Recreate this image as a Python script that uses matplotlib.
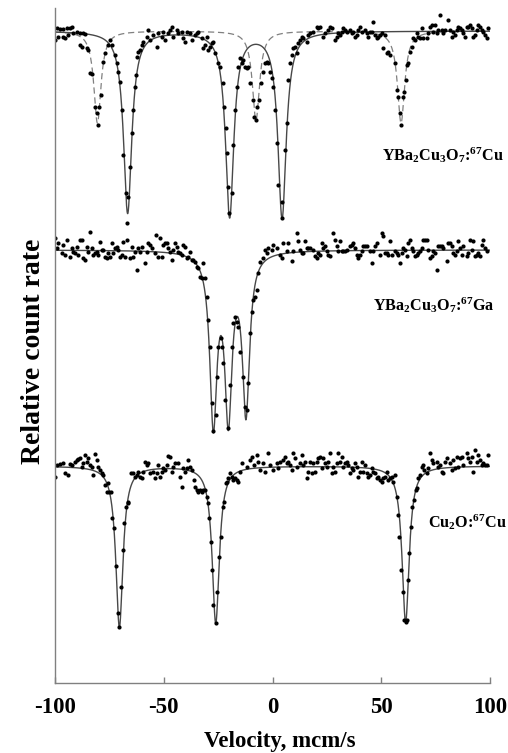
import numpy as np
import matplotlib
matplotlib.use("Agg")
import matplotlib.pyplot as plt

plt.rcParams['font.family'] = ['Liberation Serif', 'DejaVu Serif']
plt.rcParams['font.weight'] = 'bold'
plt.rcParams['mathtext.fontset'] = 'custom'
plt.rcParams['mathtext.rm'] = 'Liberation Serif:bold'
plt.rcParams['mathtext.it'] = 'Liberation Serif:bold'
plt.rcParams['mathtext.bf'] = 'Liberation Serif:bold'
plt.rcParams['axes.unicode_minus'] = False

# ---------------- data: velocity (mcm/s) and relative count rate (%) ----------------
ybco_cu_v = [-100.0, -99.1, -97.8, -96.4, -94.5, -93.1, -92.2, -98.6, -96.4, -95.4, -94.0, -91.7, -89.9, -88.5,
             -87.1, -86.2, -88.5, -87.6, -85.3, -84.8, -83.9, -83.1, -81.6, -80.8, -80.4, -79.6, -79.0, -77.8,
             -77.0, -75.6, -74.7, -73.8, -72.4, -71.6, -70.9, -70.1, -69.3, -68.6, -67.4, -66.3, -65.5, -64.7,
             -64.3, -63.2, -62.8, -62.2, -61.7, -60.9, -60.1, -59.4, -57.8, -57.1, -56.3, -54.8, -53.2, -52.5,
             -50.9, -50.2, -49.4, -47.9, -47.1, -46.3, -45.6, -44.0, -43.3, -41.8, -41.0, -40.2, -39.5, -37.9,
             -37.2, -35.6, -34.9, -34.1, -32.6, -31.8, -31.0, -30.3, -29.5, -28.7, -28.0, -27.2, -26.4, -24.9,
             -24.1, -22.9, -22.3, -21.5, -21.1, -20.3, -19.9, -18.8, -18.0, -17.2, -16.5, -15.7, -14.9, -14.2,
             -13.4, -12.6, -11.9, -11.1, -10.3, -9.1, -8.5, -7.6, -7.0, -6.1, -5.4, -4.2, -3.4, -2.7, -1.9, -1.1,
             -0.4, 0.4, 1.1, 1.9, 2.7, 4.2, 4.5, 5.7, 6.5, 7.3, 8.0, 8.8, 9.6, 10.3, 11.1, 11.9, 12.6, 13.4, 14.2,
             15.7, 16.5, 17.2, 18.8, 20.3, 21.1, 21.8, 23.4, 24.1, 25.7, 26.4, 27.2, 28.7, 29.5, 30.3, 31.0, 31.8,
             32.6, 33.3, 34.1, 35.6, 36.4, 37.2, 37.9, 38.7, 39.5, 40.2, 41.0, 42.5, 43.3, 44.0, 44.8, 45.6, 46.3,
             47.1, 47.9, 48.6, 49.4, 50.2, 50.9, 51.7, 52.5, 53.2, 54.0, 56.3, 57.1, 57.8, 58.6, 59.1, 60.1, 60.6,
             61.2, 61.7, 62.4, 63.2, 64.0, 64.7, 65.5, 66.3, 67.0, 67.8, 68.6, 69.3, 70.9, 71.6, 72.4, 73.2, 73.9,
             74.7, 75.5, 76.2, 77.0, 77.8, 78.5, 79.3, 80.8, 81.6, 82.4, 83.1, 83.9, 84.7, 85.4, 86.2, 87.0, 87.7,
             88.5, 89.3, 90.0, 90.8, 91.6, 92.3, 93.1, 93.9, 94.6, 95.4, 96.2, 96.9, 97.7, 98.5, 99.2]
ybco_cu_rate = [99.1, 100.3, 100.2, 100.2, 100.3, 100.3, 100.4, 99.4, 99.4, 99.3, 99.6, 99.8, 99.9, 99.8,
                99.8, 99.7, 98.6, 98.4, 98.3, 98.1, 95.8, 95.7, 92.4, 91.8, 90.6, 92.4, 93.6, 96.9,
                97.8, 98.6, 99.1, 98.6, 97.6, 96.8, 95.9, 94.9, 92.1, 87.6, 83.8, 83.4, 86.4, 89.8,
                92.1, 94.4, 95.6, 97.4, 97.9, 98.1, 98.6, 98.9, 99.4, 100.1, 99.1, 99.6, 98.4, 99.8,
                99.4, 99.9, 99.1, 99.8, 100.1, 100.4, 99.4, 100.1, 99.8, 99.9, 99.3, 98.9, 99.9, 99.8,
                99.1, 99.6, 99.8, 99.9, 99.3, 98.3, 98.6, 99.4, 98.1, 98.4, 98.8, 98.9, 97.8, 96.8,
                96.4, 94.8, 92.4, 90.3, 87.8, 84.4, 81.8, 83.8, 88.6, 92.1, 94.4, 96.4, 97.3, 96.8,
                97.1, 96.4, 96.3, 96.4, 94.8, 93.1, 91.4, 91.1, 92.4, 93.1, 94.8, 95.9, 96.8, 96.9, 96.8, 95.9,
                95.3, 94.4, 92.1, 88.8, 84.6, 82.9, 81.3, 88.1, 90.8, 95.1, 96.8, 97.6, 98.3, 98.4, 97.8, 98.8, 99.1, 99.4, 99.3,
                98.9, 99.6, 99.8, 99.9, 100.4, 100.3, 100.4, 99.4, 99.8, 100.1, 100.4, 100.3, 99.1, 99.4, 99.8, 99.6, 99.9,
                100.3, 100.1, 99.9, 100.1, 99.8, 99.9, 99.4, 99.6, 100.1, 100.4, 99.9, 100.1, 99.8, 99.4, 99.9, 99.9, 100.9,
                99.6, 99.3, 99.4, 99.6, 99.8, 98.3, 99.6, 97.8, 97.9, 97.6, 96.8, 94.1, 93.4, 91.8, 90.6, 93.4, 93.9,
                95.1, 96.6, 96.8, 97.9, 98.4, 99.3, 99.1, 99.8, 99.4, 99.3, 100.3, 99.3, 99.3, 99.8, 100.4, 100.6, 99.9,
                100.6, 99.8, 100.1, 101.6, 100.1, 99.8, 100.1, 101.1, 100.1, 99.4, 99.9, 99.6, 100.1, 100.4, 100.3, 100.1, 99.8,
                99.4, 100.4, 100.4, 100.6, 100.3, 99.4, 99.6, 100.1, 100.6, 100.4, 100.1, 99.9, 99.6, 99.3, 100.3]

ybco_ga_v = [-100.0, -99.2, -98.5, -96.9, -96.2, -95.4, -94.6, -93.1, -92.3, -91.6, -90.8, -90.0, -89.3, -88.5,
             -87.7, -87.0, -86.2, -85.4, -84.7, -83.9, -83.1, -82.4, -81.6, -80.8, -80.1, -79.3, -78.5, -77.8,
             -77.0, -76.2, -75.5, -74.7, -73.9, -73.2, -72.4, -71.6, -70.9, -70.1, -69.3, -68.6, -67.8, -67.0,
             -66.8, -65.5, -64.7, -64.0, -63.2, -62.4, -61.7, -60.9, -60.1, -58.6, -57.8, -57.1, -56.3, -55.5,
             -54.0, -53.6, -52.5, -51.7, -50.9, -50.2, -49.4, -48.7, -47.9, -47.1, -46.3, -45.6, -44.8, -44.0,
             -43.3, -42.5, -41.8, -41.0, -40.2, -39.5, -38.7, -37.9, -37.2, -36.4, -35.6, -34.9, -34.1, -33.3,
             -32.6, -31.8, -31.0, -30.3, -29.5, -28.7, -28.0, -27.2, -26.1, -25.4, -24.9, -23.8, -23.4, -22.6,
             -21.8, -20.3, -19.5, -18.8, -18.0, -17.2, -16.5, -15.7, -14.9, -13.7, -12.6, -11.9, -11.1, -10.3,
             -9.6, -8.8, -8.0, -7.3, -6.5, -5.7, -4.2, -3.4, -2.7, -1.9, -0.4, 0.4, 1.9, 3.4, 4.2, 5.0, 6.5, 7.3,
             8.8, 9.6, 11.1, 11.9, 12.6, 13.4, 14.2, 14.9, 15.7, 16.5, 17.2, 18.8, 19.5, 20.3, 21.1, 21.8, 22.6,
             23.4, 24.1, 24.9, 25.7, 26.4, 28.0, 28.7, 29.5, 30.3, 31.0, 31.8, 32.6, 33.3, 34.1, 35.6, 36.4, 37.2,
             37.9, 38.7, 39.5, 40.2, 41.0, 41.8, 42.5, 43.3, 44.8, 45.6, 46.3, 47.1, 47.9, 49.4, 50.2, 50.9, 51.7,
             52.5, 53.2, 54.0, 54.8, 56.3, 57.1, 57.8, 58.6, 59.4, 60.1, 60.9, 61.7, 62.4, 63.2, 64.0, 64.7, 65.5,
             66.3, 67.0, 67.8, 68.6, 69.3, 70.1, 70.9, 71.6, 72.4, 73.2, 73.9, 74.7, 75.5, 76.2, 77.0, 77.8, 78.5,
             80.1, 80.8, 81.6, 82.4, 83.1, 83.9, 84.7, 85.4, 86.2, 87.0, 87.7, 89.3, 90.0, 90.8, 91.6, 92.3, 93.1,
             93.9, 94.6, 95.4, 96.2, 96.9, 97.7, 98.5]
ybco_ga_rate = [101.2, 100.2, 100.7, 99.7, 100.5, 99.5, 101.0, 99.3, 100.2, 99.8, 99.7, 100.3, 99.5, 101.0,
                101.0, 99.2, 99.0, 100.3, 99.8, 101.8, 100.2, 99.5, 99.7, 99.8, 99.5, 100.8, 100.0, 100.0,
                99.3, 99.2, 99.7, 99.3, 100.7, 99.7, 100.2, 100.3, 100.0, 99.3, 99.5, 100.8, 99.3, 102.7,
                101.0, 99.2, 100.3, 99.3, 99.8, 98.0, 100.2, 99.8, 100.3, 98.7, 99.8, 100.7, 100.5, 100.2,
                99.7, 101.5, 99.3, 101.2, 99.3, 100.5, 100.7, 100.7, 100.2, 99.8, 99.0, 100.0, 100.7, 100.3,
                99.8, 99.7, 99.5, 100.5, 100.3, 99.2, 99.3, 99.8, 99.0, 99.0, 98.8, 98.3, 98.2, 97.3,
                97.2, 98.7, 97.2, 95.3, 93.0, 90.3, 84.7, 81.9, 83.5, 87.3, 90.3, 91.2, 90.3, 88.7,
                85.0, 82.2, 86.5, 90.3, 92.7, 93.3, 92.8, 92.3, 89.8, 87.3, 84.3, 84.0, 86.7, 91.7,
                93.8, 95.0, 95.3, 96.0, 97.7, 98.8, 99.2, 100.0, 99.7, 100.2, 100.0, 100.5, 100.2, 99.5, 99.2, 100.7, 99.9, 100.7,
                98.9, 99.9, 101.7, 100.9, 100.0, 99.7, 99.7, 100.9, 100.2, 100.2, 100.2, 100.0, 99.4, 99.2, 99.7, 99.5, 100.7,
                100.2, 100.4, 99.9, 99.5, 99.4, 101.7, 101.0, 100.4, 99.9, 100.9, 99.9, 99.9, 99.9, 100.0, 100.4, 100.5, 100.7,
                100.2, 99.5, 99.2, 99.5, 99.9, 100.4, 100.4, 100.4, 99.9, 98.7, 99.9, 100.4, 100.7, 99.5, 101.7, 101.4, 99.7,
                99.7, 99.5, 100.9, 99.5, 99.9, 99.7, 99.5, 98.7, 99.7, 100.2, 100.0, 99.4, 100.7, 101.0, 100.2, 99.9, 99.4,
                99.5, 99.7, 99.9, 100.2, 101.0, 101.0, 101.0, 100.0, 99.2, 99.4, 99.9, 99.7, 98.0, 100.4, 100.4, 100.4, 100.2,
                98.9, 100.7, 100.7, 100.4, 99.7, 99.5, 99.9, 100.9, 100.2, 99.5, 100.4, 99.4, 99.7, 101.0, 100.0, 100.9, 99.4,
                99.5, 99.7, 99.4, 100.5, 101.0, 100.2, 99.9]

cu2o_v = [-100.0, -99.2, -97.8, -96.2, -95.4, -93.9, -93.1, -92.3, -90.8, -90.0, -89.3, -88.5, -87.7, -87.0,
          -86.2, -85.4, -84.7, -83.9, -83.1, -82.4, -81.6, -80.8, -80.1, -79.3, -78.5, -77.8, -77.0, -76.2,
          -75.5, -75.0, -74.4, -73.7, -72.7, -72.1, -71.2, -70.4, -69.7, -68.9, -68.1, -67.4, -66.6, -66.3,
          -65.1, -64.3, -63.2, -62.4, -61.7, -60.9, -60.1, -59.4, -58.6, -57.8, -57.1, -56.3, -54.8, -54.0,
          -53.2, -52.5, -51.7, -50.9, -50.2, -49.4, -48.7, -47.9, -47.1, -46.3, -45.6, -44.8, -43.3, -42.5,
          -41.8, -41.0, -40.2, -39.5, -38.7, -37.9, -37.2, -36.1, -35.6, -34.9, -34.1, -33.3, -32.6, -31.8,
          -31.0, -30.3, -29.5, -29.1, -28.3, -27.8, -27.2, -26.1, -25.4, -24.7, -23.8, -22.9, -22.3, -21.5,
          -21.1, -20.3, -19.5, -18.8, -18.0, -17.2, -16.5, -15.7, -14.9, -14.2, -11.9, -10.3, -9.6, -8.5,
          -7.3, -6.5, -5.7, -4.2, -3.4, -1.9, -1.1, 0.4, 1.9, 2.7, 3.4, 5.0, 5.7, 6.5, 7.3, 8.0, 8.8, 9.6,
          10.3, 11.1, 12.6, 13.4, 14.2, 14.9, 15.7, 16.5, 17.2, 18.0, 18.8, 19.5, 20.3, 21.1, 21.8, 22.6,
          23.4, 24.1, 24.9, 25.7, 26.4, 27.2, 28.0, 28.7, 29.5, 30.3, 31.0, 31.8, 32.6, 33.3, 34.1, 34.9,
          35.6, 36.4, 37.2, 37.9, 38.7, 39.5, 40.2, 41.0, 41.8, 42.5, 43.3, 44.0, 44.8, 45.6, 46.3, 47.1,
          47.9, 48.6, 49.4, 50.2, 50.9, 51.7, 52.5, 53.2, 54.0, 54.8, 55.5, 56.3, 57.1, 57.6, 58.3, 59.0,
          59.9, 60.5, 61.2, 61.7, 62.2, 62.9, 63.5, 64.3, 65.1, 65.8, 66.3, 67.0, 67.8, 68.6, 69.3, 69.7,
          70.9, 71.6, 72.4, 73.2, 73.9, 75.5, 76.2, 77.0, 77.8, 78.5, 79.3, 80.1, 81.6, 82.4, 83.1, 83.9,
          84.7, 85.4, 86.2, 87.0, 87.7, 89.3, 90.0, 90.8, 91.6, 92.3, 93.1, 93.9, 94.6, 95.4, 96.2, 96.9,
          97.7, 98.5, 99.2]
cu2o_rate = [98.9, 100.1, 100.2, 100.3, 99.3, 99.1, 100.2, 100.1, 100.4, 100.6, 100.7, 100.8, 99.9, 100.3,
             101.1, 100.4, 100.8, 100.1, 99.9, 99.1, 101.2, 100.6, 99.9, 99.6, 99.3, 99.1, 98.1, 97.4,
             98.3, 97.4, 97.4, 94.8, 93.8, 90.0, 85.3, 83.9, 87.9, 91.6, 94.3, 95.9, 96.3, 96.4,
             99.3, 99.3, 98.9, 99.1, 99.4, 98.9, 98.8, 99.4, 100.4, 100.1, 100.3, 99.3, 99.4, 98.8,
             99.3, 100.1, 98.9, 99.4, 99.8, 99.6, 100.1, 101.0, 100.9, 99.4, 99.9, 100.3, 100.3, 98.9,
             97.9, 99.8, 99.4, 99.8, 100.6, 99.9, 99.6, 98.6, 97.9, 97.6, 97.4, 97.6, 97.4, 97.6,
             97.6, 96.9, 96.3, 94.8, 92.4, 89.6, 86.1, 84.3, 87.4, 90.9, 92.9, 95.9, 96.4, 98.3,
             98.4, 98.8, 99.3, 98.9, 98.6, 98.8, 98.6, 98.4, 99.4, 100.3, 99.9, 100.6, 100.9, 100.1,
             101.1, 100.4, 99.6, 100.3, 99.4, 101.3, 100.1, 99.6, 100.3, 99.8, 100.4, 100.6, 100.9, 100.3, 100.4, 100.1, 99.6, 101.3,
             100.8, 99.9, 100.3, 101.1, 100.1, 100.4, 98.8, 99.4, 100.4, 99.3, 100.3, 99.4, 100.4, 100.8, 100.9, 99.8,
             100.8, 100.3, 99.9, 100.4, 101.3, 99.3, 99.9, 99.4, 100.3, 101.3, 100.4, 100.9, 99.9, 100.3, 100.4, 100.1,
             99.3, 99.8, 99.6, 100.3, 99.9, 98.9, 99.4, 100.4, 99.4, 100.1, 99.3, 98.9, 99.1, 99.8, 99.4, 99.3,
             98.8, 98.9, 98.6, 98.4, 98.8, 98.9, 99.4, 98.6, 98.8, 98.9, 98.4, 99.1, 96.9, 95.1, 92.9, 89.6,
             87.4, 84.6, 84.4, 84.6, 88.6, 91.3, 93.9, 95.9, 96.6, 97.6, 97.8, 98.8, 99.1, 99.9, 100.1, 99.6,
             99.3, 99.8, 101.3, 100.6, 100.3, 100.4, 99.9, 100.1, 99.4, 99.3, 100.4, 100.8, 100.3, 99.6, 100.6, 99.8,
             100.9, 99.9, 100.8, 100.9, 100.1, 101.3, 100.8, 100.4, 100.9, 99.4, 101.6, 100.4, 101.1, 100.6, 100.1, 100.3,
             100.1, 100.1, 101.1]

# fitted Lorentzian line parameters (centre mcm/s, depth %, half width mcm/s)
ybco_cu_site1_centers = [-66.6, -19.7, 4.4]
ybco_cu_site1_depths = [18.2, 18.5, 18.6]
ybco_cu_site1_hwhm = 2.3
ybco_cu_site2_centers = [-80.5, -7.6, 59.1]
ybco_cu_site2_depths = [9.2, 8.9, 9.2]
ybco_cu_site2_hwhm = 2.0
ybco_ga_centers = [-27.2, -20.3, -12.2]
ybco_ga_depths = [16.8, 15.9, 15.8]
ybco_ga_hwhm = 1.98
cu2o_centers = [-70.4, -26.1, 61.2]
cu2o_depths = [16.1, 15.7, 15.6]
cu2o_hwhm = 1.98

labels = [r"YBa$_2$Cu$_3$O$_7$:$^{67}$Cu", r"YBa$_2$Cu$_3$O$_7$:$^{67}$Ga", r"Cu$_2$O:$^{67}$Cu"]
xticks = [-100, -50, 0, 50, 100]


def lorentz_model(v, centers, depths, hwhm):
    out = np.full_like(v, 100.0)
    for c, d in zip(centers, depths):
        out = out - d * hwhm ** 2 / ((v - c) ** 2 + hwhm ** 2)
    return out


fig = plt.figure(figsize=(5.08, 7.53), dpi=100)
ax = fig.add_axes([55 / 508, 70 / 753, 435 / 508, 675 / 753])

# vertical stacking (layout): baseline position and scale per spectrum
offsets = [652, 433, 217]
scale = 10.0


def place(rate, k):
    return offsets[k] + (np.asarray(rate) - 100.0) * scale


vgrid = np.linspace(-100, 100, 4001)
line_col = '#484848'
dash_col = '#808080'
ms = 3.0

# top spectrum
ax.plot(vgrid, place(lorentz_model(vgrid, ybco_cu_site2_centers, ybco_cu_site2_depths, ybco_cu_site2_hwhm), 0),
        color=dash_col, lw=0.9, ls=(0, (5, 3)))
ax.plot(vgrid, place(lorentz_model(vgrid, ybco_cu_site1_centers, ybco_cu_site1_depths, ybco_cu_site1_hwhm), 0),
        color=line_col, lw=1.0)
ax.plot(ybco_cu_v, place(ybco_cu_rate, 0), 'o', color='black', ms=ms, mew=0)

# middle spectrum
ax.plot(vgrid, place(lorentz_model(vgrid, ybco_ga_centers, ybco_ga_depths, ybco_ga_hwhm), 1),
        color=line_col, lw=1.0)
ax.plot(ybco_ga_v, place(ybco_ga_rate, 1), 'o', color='black', ms=ms, mew=0)

# bottom spectrum
ax.plot(vgrid, place(lorentz_model(vgrid, cu2o_centers, cu2o_depths, cu2o_hwhm), 2),
        color=line_col, lw=1.0)
ax.plot(cu2o_v, place(cu2o_rate, 2), 'o', color='black', ms=ms, mew=0)

ax.set_xlim(-100, 100)
ax.set_ylim(0, 675)

ax.text(50.3, 528, labels[0], fontsize=11.6, fontweight='bold', ha='left', va='center', clip_on=False)
ax.text(46.2, 378, labels[1], fontsize=11.6, fontweight='bold', ha='left', va='center', clip_on=False)
ax.text(71.5, 161, labels[2], fontsize=11.6, fontweight='bold', ha='left', va='center', clip_on=False)

for s in ['top', 'right']:
    ax.spines[s].set_visible(False)
for s in ['left', 'bottom']:
    ax.spines[s].set_color('#808080')
    ax.spines[s].set_linewidth(1.0)

ax.set_yticks([])
ax.set_xticks(xticks)
ax.set_xticklabels([str(t) for t in xticks])
ax.tick_params(axis='x', direction='in', length=4, width=1, color='#808080', pad=10, labelsize=16.5)
for lbl in ax.get_xticklabels():
    lbl.set_fontweight('bold')

fig.text(280 / 508, 1 - 742 / 753, "Velocity, mcm/s", fontsize=16.5, fontweight='bold', ha='center', va='center')
fig.text(34 / 508, 1 - 351 / 753, "Relative count rate", fontsize=20, fontweight='bold', ha='center', va='center',
         rotation=90)

fig.savefig("out.png", dpi=100)
